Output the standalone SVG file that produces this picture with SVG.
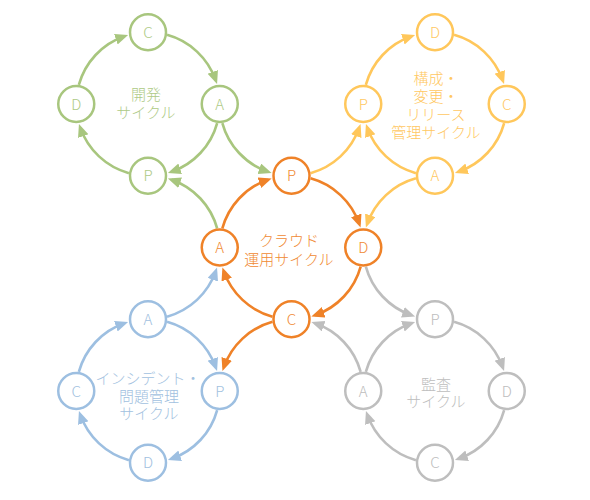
<svg xmlns="http://www.w3.org/2000/svg" width="590" height="500" viewBox="0 0 590 500">
<style>
  .n circle { fill: #ffffff; stroke-width: 2.5; }
  .n text, .lab { font-family: "Noto Sans CJK JP", "Noto Sans", sans-serif; font-size: 15px; font-weight: 300; text-anchor: middle; }
  .c path { fill: none; stroke-width: 2.6; }
  .g circle { stroke: #A8C67E; } .g text { fill: #AECA86; }
  .y circle { stroke: #FFC75B; } .y text { fill: #FFC862; }
  .o circle { stroke: #EF8228; } .o text { fill: #F08A33; }
  .b circle { stroke: #9DBFE1; } .b text { fill: #A2C1E0; }
  .x circle { stroke: #BEBEBE; } .x text { fill: #BDBDBD; }
  .cg { stroke: #A8C67E; marker-end: url(#mg); }
  .cy { stroke: #FFC75B; marker-end: url(#my); }
  .co { stroke: #EF8228; marker-end: url(#mo); }
  .cb { stroke: #9DBFE1; marker-end: url(#mb); }
  .cx { stroke: #BEBEBE; marker-end: url(#mx); }
</style>
<defs>
  <marker id="mg" markerUnits="userSpaceOnUse" markerWidth="14" markerHeight="12" refX="9" refY="5.5" orient="auto"><path d="M0,0 L13,5.5 L0,11 Z" fill="#A8C67E"/></marker>
  <marker id="my" markerUnits="userSpaceOnUse" markerWidth="14" markerHeight="12" refX="9" refY="5.5" orient="auto"><path d="M0,0 L13,5.5 L0,11 Z" fill="#FFC75B"/></marker>
  <marker id="mo" markerUnits="userSpaceOnUse" markerWidth="14" markerHeight="12" refX="9" refY="5.5" orient="auto"><path d="M0,0 L13,5.5 L0,11 Z" fill="#EF8228"/></marker>
  <marker id="mb" markerUnits="userSpaceOnUse" markerWidth="14" markerHeight="12" refX="9" refY="5.5" orient="auto"><path d="M0,0 L13,5.5 L0,11 Z" fill="#9DBFE1"/></marker>
  <marker id="mx" markerUnits="userSpaceOnUse" markerWidth="14" markerHeight="12" refX="9" refY="5.5" orient="auto"><path d="M0,0 L13,5.5 L0,11 Z" fill="#BEBEBE"/></marker>
</defs>

<g id="connectors" class="c">
  <!-- cycle arcs (clockwise) -->
  <g transform="translate(148,104)" class="cg">
    <path d="M69.17,19.06 A71.75,71.75 0 0 1 23.66,67.74"/>
    <path d="M-19.06,69.17 A71.75,71.75 0 0 1 -67.74,23.66"/>
    <path d="M-69.17,-19.06 A71.75,71.75 0 0 1 -23.66,-67.74"/>
    <path d="M19.06,-69.17 A71.75,71.75 0 0 1 67.74,-23.66"/>
  </g>
  <g transform="translate(435,104)" class="cy">
    <path d="M69.17,19.06 A71.75,71.75 0 0 1 23.66,67.74"/>
    <path d="M-19.06,69.17 A71.75,71.75 0 0 1 -67.74,23.66"/>
    <path d="M-69.17,-19.06 A71.75,71.75 0 0 1 -23.66,-67.74"/>
    <path d="M19.06,-69.17 A71.75,71.75 0 0 1 67.74,-23.66"/>
  </g>
  <g transform="translate(291.5,247.5)" class="co">
    <path d="M69.17,19.06 A71.75,71.75 0 0 1 23.66,67.74"/>
    <path d="M-19.06,69.17 A71.75,71.75 0 0 1 -67.74,23.66"/>
    <path d="M-69.17,-19.06 A71.75,71.75 0 0 1 -23.66,-67.74"/>
    <path d="M19.06,-69.17 A71.75,71.75 0 0 1 67.74,-23.66"/>
  </g>
  <g transform="translate(148,391)" class="cb">
    <path d="M69.17,19.06 A71.75,71.75 0 0 1 23.66,67.74"/>
    <path d="M-19.06,69.17 A71.75,71.75 0 0 1 -67.74,23.66"/>
    <path d="M-69.17,-19.06 A71.75,71.75 0 0 1 -23.66,-67.74"/>
    <path d="M19.06,-69.17 A71.75,71.75 0 0 1 67.74,-23.66"/>
  </g>
  <g transform="translate(435,391)" class="cx">
    <path d="M69.17,19.06 A71.75,71.75 0 0 1 23.66,67.74"/>
    <path d="M-19.06,69.17 A71.75,71.75 0 0 1 -67.74,23.66"/>
    <path d="M-69.17,-19.06 A71.75,71.75 0 0 1 -23.66,-67.74"/>
    <path d="M19.06,-69.17 A71.75,71.75 0 0 1 67.74,-23.66"/>
  </g>
  <!-- links between cycles -->
  <path class="cg" d="M222.33,123.06 A71.75,71.75 0 0 0 267.84,171.74"/>
  <path class="cg" d="M217.17,228.44 A71.75,71.75 0 0 0 171.66,179.76"/>
  <path class="cy" d="M310.56,173.17 A71.75,71.75 0 0 0 359.24,127.66"/>
  <path class="cb" d="M167.06,316.67 A71.75,71.75 0 0 0 215.74,271.16"/>
  <path class="cy" d="M415.94,178.33 A71.75,71.75 0 0 0 367.26,223.84"/>
  <path class="cx" d="M365.83,266.56 A71.75,71.75 0 0 0 411.34,315.24"/>
  <path class="cx" d="M360.67,371.94 A71.75,71.75 0 0 0 315.16,323.26"/>
  <path class="co" d="M272.44,321.83 A71.75,71.75 0 0 0 223.76,367.34"/>
</g>

<!-- development cycle -->
<g id="dev-C" class="n g"><circle cx="148" cy="32.25" r="18"/><text x="148" y="37.75">C</text></g>
<g id="dev-A" class="n g"><circle cx="219.75" cy="104" r="18"/><text x="219.75" y="109.5">A</text></g>
<g id="dev-P" class="n g"><circle cx="148" cy="175.75" r="18"/><text x="148" y="181.25">P</text></g>
<g id="dev-D" class="n g"><circle cx="76.25" cy="104" r="18"/><text x="76.25" y="109.5">D</text></g>
<g id="dev-label" class="g"><text class="lab" x="146" y="99.5">開発<tspan x="146" dy="18">サイクル</tspan></text></g>

<!-- configuration / change / release cycle -->
<g id="rel-D" class="n y"><circle cx="435" cy="32.25" r="18"/><text x="435" y="37.75">D</text></g>
<g id="rel-C" class="n y"><circle cx="506.75" cy="104" r="18"/><text x="506.75" y="109.5">C</text></g>
<g id="rel-A" class="n y"><circle cx="435" cy="175.75" r="18"/><text x="435" y="181.25">A</text></g>
<g id="rel-P" class="n y"><circle cx="363.25" cy="104" r="18"/><text x="363.25" y="109.5">P</text></g>
<g id="rel-label" class="y"><text class="lab" x="436" y="83.5">構成・<tspan x="436" dy="18.2">変更・</tspan><tspan x="436" dy="18">リリース</tspan><tspan x="436" dy="17.8">管理サイクル</tspan></text></g>

<!-- cloud operation cycle -->
<g id="ops-P" class="n o"><circle cx="291.5" cy="175.75" r="18"/><text x="291.5" y="181.25">P</text></g>
<g id="ops-D" class="n o"><circle cx="363.25" cy="247.5" r="18"/><text x="363.25" y="253">D</text></g>
<g id="ops-C" class="n o"><circle cx="291.5" cy="319.25" r="18"/><text x="291.5" y="324.75">C</text></g>
<g id="ops-A" class="n o"><circle cx="219.75" cy="247.5" r="18"/><text x="219.75" y="253">A</text></g>
<g id="ops-label" class="o"><text class="lab" x="289" y="246">クラウド<tspan x="289" dy="18.5">運用サイクル</tspan></text></g>

<!-- incident / problem cycle -->
<g id="inc-A" class="n b"><circle cx="148" cy="319.25" r="18"/><text x="148" y="324.75">A</text></g>
<g id="inc-P" class="n b"><circle cx="219.75" cy="391" r="18"/><text x="219.75" y="396.5">P</text></g>
<g id="inc-D" class="n b"><circle cx="148" cy="462.75" r="18"/><text x="148" y="468.25">D</text></g>
<g id="inc-C" class="n b"><circle cx="76.25" cy="391" r="18"/><text x="76.25" y="396.5">C</text></g>
<g id="inc-label" class="b"><text class="lab" x="148" y="383.5">インシデント・<tspan x="149" dy="18.5">問題管理</tspan><tspan x="149" dy="17">サイクル</tspan></text></g>

<!-- audit cycle -->
<g id="aud-P" class="n x"><circle cx="435" cy="319.25" r="18"/><text x="435" y="324.75">P</text></g>
<g id="aud-D" class="n x"><circle cx="506.75" cy="391" r="18"/><text x="506.75" y="396.5">D</text></g>
<g id="aud-C" class="n x"><circle cx="435" cy="462.75" r="18"/><text x="435" y="468.25">C</text></g>
<g id="aud-A" class="n x"><circle cx="363.25" cy="391" r="18"/><text x="363.25" y="396.5">A</text></g>
<g id="aud-label" class="x"><text class="lab" x="436" y="389.5">監査<tspan x="436" dy="17.5">サイクル</tspan></text></g>
</svg>
